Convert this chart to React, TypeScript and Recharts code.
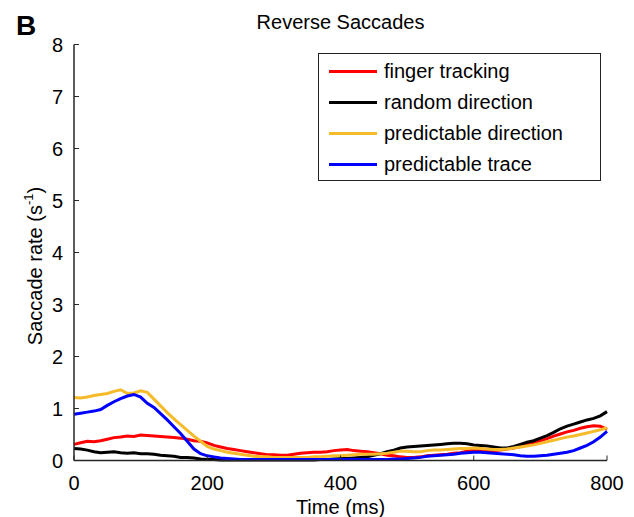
import { LineChart, Line, XAxis, YAxis, Legend } from 'recharts';

const FONT = '"Liberation Sans", Arial, Helvetica, sans-serif';

// sample times (ms), one value every 10 ms
const timeMs = [
  0, 10, 20, 30, 40, 50, 60, 70, 80, 90,
  100, 110, 120, 130, 140, 150, 160, 170, 180, 190,
  200, 210, 220, 230, 240, 250, 260, 270, 280, 290,
  300, 310, 320, 330, 340, 350, 360, 370, 380, 390,
  400, 410, 420, 430, 440, 450, 460, 470, 480, 490,
  500, 510, 520, 530, 540, 550, 560, 570, 580, 590,
  600, 610, 620, 630, 640, 650, 660, 670, 680, 690,
  700, 710, 720, 730, 740, 750, 760, 770, 780, 790,
  800,
];

const fingerTracking = [
  0.31, 0.34, 0.37, 0.36, 0.38, 0.41, 0.44, 0.45, 0.47, 0.46,
  0.49, 0.48, 0.47, 0.46, 0.45, 0.44, 0.43, 0.41, 0.38, 0.37,
  0.34, 0.29, 0.26, 0.23, 0.21, 0.19, 0.17, 0.15, 0.13, 0.11,
  0.11, 0.1, 0.1, 0.12, 0.14, 0.15, 0.16, 0.16, 0.17, 0.19,
  0.2, 0.21, 0.19, 0.18, 0.17, 0.15, 0.13, 0.1, 0.09, 0.07,
  0.06, 0.06, 0.07, 0.09, 0.1, 0.11, 0.12, 0.14, 0.15, 0.18,
  0.2, 0.2, 0.18, 0.19, 0.2, 0.22, 0.24, 0.27, 0.3, 0.34,
  0.38, 0.42, 0.47, 0.51, 0.55, 0.58, 0.62, 0.65, 0.67, 0.66,
  0.6,
];

const randomDirection = [
  0.23, 0.22, 0.2, 0.17, 0.15, 0.16, 0.17, 0.15, 0.14, 0.15,
  0.13, 0.13, 0.12, 0.1, 0.09, 0.08, 0.06, 0.06, 0.05, 0.03,
  0.02, 0.02, 0.01, 0.01, 0.01, 0.01, 0.01, 0.01, 0.01, 0.01,
  0.01, 0.01, 0.01, 0.01, 0.01, 0.01, 0.01, 0.02, 0.02, 0.03,
  0.04, 0.04, 0.05, 0.06, 0.07, 0.1, 0.13, 0.17, 0.2, 0.24,
  0.26, 0.27, 0.28, 0.29, 0.3, 0.31, 0.32, 0.33, 0.33, 0.32,
  0.3, 0.29, 0.28, 0.26, 0.24, 0.24, 0.27, 0.31, 0.35, 0.38,
  0.43, 0.48, 0.54, 0.61, 0.66, 0.7, 0.74, 0.78, 0.81, 0.86,
  0.94,
];

const predictableDirection = [
  1.21, 1.2, 1.22, 1.25, 1.27, 1.29, 1.33, 1.36, 1.29, 1.3,
  1.34, 1.31, 1.18, 1.05, 0.92, 0.8, 0.69, 0.58, 0.47, 0.37,
  0.27, 0.22, 0.19, 0.16, 0.14, 0.12, 0.1, 0.08, 0.07, 0.07,
  0.06, 0.06, 0.06, 0.06, 0.06, 0.06, 0.07, 0.07, 0.08, 0.09,
  0.09, 0.1, 0.11, 0.12, 0.12, 0.12, 0.13, 0.14, 0.16, 0.18,
  0.18, 0.17, 0.17, 0.19, 0.2, 0.2, 0.21, 0.22, 0.23, 0.23,
  0.24, 0.23, 0.22, 0.21, 0.21, 0.22, 0.24, 0.26, 0.28, 0.3,
  0.33, 0.36, 0.39, 0.42, 0.45, 0.47, 0.5, 0.53, 0.56, 0.59,
  0.63,
];

const predictableTrace = [
  0.89, 0.91, 0.93, 0.95, 0.98, 1.06, 1.13, 1.19, 1.24, 1.27,
  1.22, 1.1, 1.02, 0.9, 0.78, 0.65, 0.52, 0.37, 0.22, 0.13,
  0.09, 0.07, 0.05, 0.04, 0.03, 0.02, 0.02, 0.02, 0.02, 0.02,
  0.02, 0.02, 0.02, 0.02, 0.02, 0.02, 0.02, 0.02, 0.02, 0.02,
  0.02, 0.02, 0.02, 0.02, 0.02, 0.02, 0.02, 0.02, 0.03, 0.03,
  0.04, 0.05, 0.06, 0.08, 0.09, 0.1, 0.11, 0.12, 0.14, 0.15,
  0.16, 0.16, 0.15, 0.14, 0.13, 0.12, 0.11, 0.09, 0.08, 0.08,
  0.09, 0.1, 0.12, 0.14, 0.16, 0.19, 0.24, 0.29, 0.36, 0.45,
  0.56,
];

const xTicks = [0, 200, 400, 600, 800];
const yTicks = [0, 1, 2, 3, 4, 5, 6, 7, 8];

const series = [
  { key: 'finger', name: 'finger tracking', color: '#ff0000', values: fingerTracking },
  { key: 'random', name: 'random direction', color: '#000000', values: randomDirection },
  { key: 'predDir', name: 'predictable direction', color: '#f6bb2a', values: predictableDirection },
  { key: 'predTrace', name: 'predictable trace', color: '#0000ff', values: predictableTrace },
];

const chartData = timeMs.map((t, i) => {
  const row: Record<string, number> = { t };
  for (const s of series) row[s.key] = s.values[i];
  return row;
});

function LegendBox() {
  return (
    <div
      style={{
        width: 281,
        height: 124,
        border: '1px solid #222',
        background: '#fff',
        boxSizing: 'content-box',
        fontFamily: FONT,
        fontSize: 20,
        color: '#000',
        paddingTop: 2,
      }}
    >
      {series.map((s) => (
        <div key={s.key} style={{ display: 'flex', alignItems: 'center', height: 31, paddingLeft: 10 }}>
          <div style={{ width: 48, height: 3, background: s.color, marginRight: 7 }} />
          <span>{s.name}</span>
        </div>
      ))}
    </div>
  );
}

export default function App() {
  const tickStyle = { fontSize: 20, fill: '#000', fontFamily: FONT };
  return (
    <div style={{ position: 'absolute', left: 0, top: 0, width: 634, height: 517, background: '#fff' }}>
      <LineChart
        width={634}
        height={517}
        data={chartData}
        margin={{ top: 44.5, right: 27, bottom: 26.5, left: 14 }}
      >
        <XAxis
          dataKey="t"
          type="number"
          domain={[0, 800]}
          ticks={xTicks}
          tick={tickStyle}
          tickSize={-5}
          tickMargin={20}
          stroke="#262626"
          axisLine={{ stroke: '#262626', strokeWidth: 1.5 }}
          height={30}
        />
        <YAxis
          type="number"
          domain={[0, 8]}
          ticks={yTicks}
          tick={tickStyle}
          tickSize={-5}
          tickMargin={16}
          stroke="#262626"
          axisLine={{ stroke: '#262626', strokeWidth: 1.5 }}
          width={60}
        />
        <Legend
          layout="vertical"
          align="center"
          verticalAlign="middle"
          wrapperStyle={{ position: 'absolute', left: 318, top: 53, width: 283, height: 127 }}
          content={() => <LegendBox />}
        />
        {series.map((s) => (
          <Line
            key={s.key}
            type="linear"
            dataKey={s.key}
            name={s.name}
            stroke={s.color}
            strokeWidth={3}
            dot={false}
            activeDot={false}
            isAnimationActive={false}
          />
        ))}
      </LineChart>
      <svg
        width={634}
        height={517}
        style={{ position: 'absolute', left: 0, top: 0, pointerEvents: 'none' }}
        fontFamily={FONT}
      >
        <text x={16} y={35} fontSize={28} fontWeight="bold" fill="#000">B</text>
        <text x={340.5} y={29} fontSize={20} textAnchor="middle" fill="#000">Reverse Saccades</text>
        <text x={340.5} y={514} fontSize={20} textAnchor="middle" fill="#000">Time (ms)</text>
        <text transform="translate(42, 266) rotate(-90)" fontSize={20} textAnchor="middle" fill="#000">
          Saccade rate (s
          <tspan dy={-9} fontSize={13}>-1</tspan>
          <tspan dy={9}>)</tspan>
        </text>
      </svg>
    </div>
  );
}
